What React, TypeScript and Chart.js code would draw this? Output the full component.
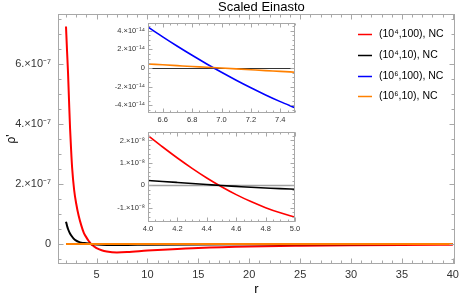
import React, { useEffect, useRef } from 'react';
import { Chart, registerables } from 'chart.js';

Chart.register(...registerables);

const FONT = "'Liberation Sans', Arial, sans-serif";
const TITLE = 'Scaled Einasto';
const X_TITLE = 'r';
const Y_TITLE = "ρ'";

// ---------- series names & colours ----------
const seriesNames = ['(10⁴,100), NC', '(10⁴,10), NC', '(10⁶,100), NC', '(10⁶,10), NC'];
const seriesColors = ['#ff0000', '#000000', '#0000ff', '#ff8000'];

// ---------- main plot data ----------
const redX = [2, 2.1, 2.2, 2.3, 2.4, 2.5, 2.6, 2.8, 3.0, 3.25, 3.5, 3.75, 4.0, 4.25, 4.45, 4.75, 5.0, 5.5, 6.0, 7.0, 8.0, 10, 12, 15, 20, 25, 30, 35, 40];
const redY = [7.25e-7, 6.45e-7, 5.7e-7, 4.75e-7, 3.85e-7, 3.15e-7, 2.55e-7, 1.8e-7, 1.35e-7, 0.93e-7, 0.62e-7, 0.37e-7, 0.22e-7, 0.09e-7, 0, -0.08e-7, -0.14e-7, -0.21e-7, -0.25e-7, -0.28e-7, -0.27e-7, -0.22e-7, -0.18e-7, -0.13e-7, -0.08e-7, -0.055e-7, -0.04e-7, -0.03e-7, -0.025e-7];

const blackX = [2, 2.1, 2.2, 2.35, 2.5, 2.75, 3.0, 3.25, 3.5, 4.0, 4.45, 5, 6, 7, 8, 10, 15, 20, 30, 40];
const blackY = [0.74e-7, 0.61e-7, 0.5e-7, 0.38e-7, 0.29e-7, 0.18e-7, 0.11e-7, 0.07e-7, 0.045e-7, 0.022e-7, 0, -0.017e-7, -0.03e-7, -0.032e-7, -0.03e-7, -0.025e-7, -0.015e-7, -0.01e-7, -0.005e-7, -0.003e-7];

const blueX = [2, 3, 4, 5, 6.5, 7, 7.5, 10, 20, 30, 40];
const blueY = [6e-13, 4e-13, 2.5e-13, 1.5e-13, 4.4e-14, -5e-15, -4.3e-14, -1e-13, -8e-14, -4e-14, -2e-14];

const orangeX = [2, 3, 4, 5, 6.5, 7, 7.5, 10, 20, 30, 40];
const orangeY = [6e-14, 4e-14, 2.5e-14, 1.5e-14, 4.2e-15, -2e-16, -4.6e-15, -1e-14, -8e-15, -4e-15, -2e-15];

// ---------- inset 1 data (blue, orange) ----------
const inset1X = [6.5, 6.6, 6.7, 6.8, 6.9, 7.0, 7.1, 7.2, 7.3, 7.4, 7.5];
const inset1Blue = [4.38e-14, 3.33e-14, 2.32e-14, 1.35e-14, 0.42e-14, -0.47e-14, -1.32e-14, -2.13e-14, -2.9e-14, -3.62e-14, -4.28e-14];
const inset1Orange = [0.42e-14, 0.33e-14, 0.24e-14, 0.15e-14, 0.07e-14, -0.02e-14, -0.11e-14, -0.2e-14, -0.29e-14, -0.37e-14, -0.46e-14];

// ---------- inset 2 data (red, black) ----------
const inset2X = [4.0, 4.1, 4.2, 4.3, 4.4, 4.5, 4.6, 4.7, 4.8, 4.9, 5.0];
const inset2Red = [2.22e-8, 1.71e-8, 1.22e-8, 0.76e-8, 0.33e-8, -0.06e-8, -0.41e-8, -0.72e-8, -0.99e-8, -1.22e-8, -1.41e-8];
const inset2Black = [0.22e-8, 0.175e-8, 0.13e-8, 0.085e-8, 0.04e-8, -0.005e-8, -0.045e-8, -0.085e-8, -0.115e-8, -0.145e-8, -0.17e-8];

// ---------- ticks ----------
const mainXTicks = [5, 10, 15, 20, 25, 30, 35, 40];
const mainXLabels = ['5', '10', '15', '20', '25', '30', '35', '40'];
const mainYTicks = [0, 2e-7, 4e-7, 6e-7];
const mainYLabels = ['0', '2.×10⁻⁷', '4.×10⁻⁷', '6.×10⁻⁷'];

const inset1XTicks = [6.6, 6.8, 7.0, 7.2, 7.4];
const inset1XLabels = ['6.6', '6.8', '7.0', '7.2', '7.4'];
const inset1YTicks = [-4e-14, -2e-14, 0, 2e-14, 4e-14];
const inset1YLabels = ['-4.×10⁻¹⁴', '-2.×10⁻¹⁴', '0', '2.×10⁻¹⁴', '4.×10⁻¹⁴'];

const inset2XTicks = [4.0, 4.2, 4.4, 4.6, 4.8, 5.0];
const inset2XLabels = ['4.0', '4.2', '4.4', '4.6', '4.8', '5.0'];
const inset2YTicks = [-1e-8, 0, 1e-8, 2e-8];
const inset2YLabels = ['-1.×10⁻⁸', '0', '1.×10⁻⁸', '2.×10⁻⁸'];

function range(start: number, end: number, step: number): number[] {
  const out: number[] = [];
  const n = Math.round((end - start) / step);
  for (let i = 0; i <= n; i++) out.push(start + i * step);
  return out;
}

const FRAME_COLOR = '#a8a8a8';
const LABEL_COLOR = '#333333';

function framePlugin(cfg: any) {
  return {
    id: 'frameTicks',
    beforeDatasetsDraw(chart: any) {
      if (!cfg.zero) return;
      const { ctx, chartArea: a, scales } = chart;
      const y = Math.round(scales.y.getPixelForValue(0)) + 0.5;
      ctx.save();
      ctx.strokeStyle = cfg.zero.color;
      ctx.lineWidth = cfg.zero.width;
      ctx.beginPath();
      ctx.moveTo(a.left, y);
      ctx.lineTo(a.right, y);
      ctx.stroke();
      ctx.restore();
    },
    afterDatasetsDraw(chart: any) {
      const { ctx, chartArea: a, scales } = chart;
      ctx.save();
      ctx.strokeStyle = FRAME_COLOR;
      ctx.lineWidth = 1;
      const L = Math.round(a.left) + 0.5, R = Math.round(a.right) - 0.5;
      const T = Math.round(a.top) + 0.5, B = Math.round(a.bottom) - 0.5;
      ctx.strokeRect(L, T, R - L, B - T);
      const drawX = (vals: number[], len: number) => {
        vals.forEach((v) => {
          const px = scales.x.getPixelForValue(v);
          if (px < a.left || px > a.right) return;
          const x = Math.round(px) + 0.5;
          ctx.beginPath();
          ctx.moveTo(x, B); ctx.lineTo(x, B - len);
          ctx.moveTo(x, T); ctx.lineTo(x, T + len);
          ctx.stroke();
        });
      };
      const drawY = (vals: number[], len: number) => {
        vals.forEach((v) => {
          const py = scales.y.getPixelForValue(v);
          if (py < a.top || py > a.bottom) return;
          const y = Math.round(py) + 0.5;
          ctx.beginPath();
          ctx.moveTo(L, y); ctx.lineTo(L + len, y);
          ctx.moveTo(R, y); ctx.lineTo(R - len, y);
          ctx.stroke();
        });
      };
      drawX(cfg.xMinor, cfg.minorLen);
      drawX(cfg.xMajor, cfg.majorLen);
      drawY(cfg.yMinor, cfg.minorLen);
      drawY(cfg.yMajor, cfg.majorLen);
      ctx.restore();
    },
  };
}

const mainDecor = {
  id: 'mainDecor',
  afterDraw(chart: any) {
    const { ctx, chartArea: a } = chart;
    ctx.save();
    ctx.font = `13px ${FONT}`;
    ctx.fillStyle = '#000';
    ctx.textAlign = 'center';
    ctx.textBaseline = 'middle';
    ctx.fillText(TITLE, (a.left + a.right) / 2 + 5, a.top - 7);
    ctx.font = `10.5px ${FONT}`;
    ctx.textAlign = 'left';
    seriesNames.forEach((name, i) => {
      const y = Math.round(a.top + 20 + i * 20.8) + 0.5;
      ctx.strokeStyle = seriesColors[i];
      ctx.lineWidth = 1.5;
      ctx.beginPath();
      ctx.moveTo(a.left + 300, y);
      ctx.lineTo(a.left + 314, y);
      ctx.stroke();
      ctx.fillStyle = '#000';
      ctx.fillText(name, a.left + 321, y);
    });
    ctx.restore();
  },
};

function pts(xs: number[], ys: number[]) {
  return xs.map((x, i) => ({ x, y: ys[i] }));
}

function axisX(min: number, max: number, ticks: number[], labels: string[], height: number, fontSize: number, pad: number, title?: string) {
  return {
    type: 'linear',
    min,
    max,
    grid: { display: false, drawTicks: false },
    border: { display: false },
    afterBuildTicks: (s: any) => { s.ticks = ticks.map((v) => ({ value: v })); },
    afterFit: (s: any) => { s.height = height; },
    ticks: {
      autoSkip: false,
      maxRotation: 0,
      padding: pad,
      color: LABEL_COLOR,
      font: { family: FONT, size: fontSize },
      callback: (_v: any, i: number) => labels[i],
    },
    title: title
      ? { display: true, text: title, color: '#000', font: { family: FONT, size: 13 }, padding: 0 }
      : { display: false },
  };
}

function axisY(min: number, max: number, ticks: number[], labels: string[], width: number, fontSize: number, pad: number, title?: string) {
  return {
    type: 'linear',
    min,
    max,
    grid: { display: false, drawTicks: false },
    border: { display: false },
    afterBuildTicks: (s: any) => { s.ticks = ticks.map((v) => ({ value: v })); },
    afterFit: (s: any) => { s.width = width; },
    ticks: {
      autoSkip: false,
      padding: pad,
      color: LABEL_COLOR,
      font: { family: FONT, size: fontSize },
      callback: (_v: any, i: number) => labels[i],
    },
    title: title
      ? { display: true, text: title, color: '#000', font: { family: FONT, size: 12 }, padding: { top: 4, bottom: 0 } }
      : { display: false },
  };
}

function lineDs(label: string, data: any[], color: string, width: number, order: number) {
  return {
    label,
    data,
    borderColor: color,
    backgroundColor: color,
    borderWidth: width,
    pointRadius: 0,
    fill: false,
    cubicInterpolationMode: 'monotone',
    order,
  };
}

const baseOpts = {
  animation: false,
  responsive: false,
  maintainAspectRatio: false,
  devicePixelRatio: 1,
  events: [],
  parsing: true,
  plugins: { legend: { display: false }, tooltip: { enabled: false }, title: { display: false } },
};

export default function App() {
  const mainRef = useRef<HTMLCanvasElement>(null);
  const in1Ref = useRef<HTMLCanvasElement>(null);
  const in2Ref = useRef<HTMLCanvasElement>(null);

  useEffect(() => {
    const charts: Chart[] = [];

    charts.push(
      new Chart(mainRef.current as HTMLCanvasElement, {
        type: 'line',
        data: {
          datasets: [
            lineDs(seriesNames[0], pts(redX, redY), seriesColors[0], 2, 4),
            lineDs(seriesNames[1], pts(blackX, blackY), seriesColors[1], 2, 3),
            lineDs(seriesNames[2], pts(blueX, blueY), seriesColors[2], 2, 2),
            lineDs(seriesNames[3], pts(orangeX, orangeY), seriesColors[3], 2, 1),
          ] as any,
        },
        options: {
          ...baseOpts,
          layout: { padding: { top: 14, right: 8, left: 0, bottom: 0 } },
          scales: {
            x: axisX(1.214, 40.2, mainXTicks, mainXLabels, 33, 11, 4, X_TITLE),
            y: axisY(-0.667e-7, 7.667e-7, mainYTicks, mainYLabels, 58, 11, 7, Y_TITLE),
          },
        } as any,
        plugins: [
          framePlugin({
            xMajor: mainXTicks,
            xMinor: range(1, 40, 1),
            yMajor: mainYTicks,
            yMinor: range(-0.5e-7, 7.5e-7, 0.5e-7),
            majorLen: 5,
            minorLen: 3,
          }),
          mainDecor,
        ] as any,
      })
    );

    charts.push(
      new Chart(in1Ref.current as HTMLCanvasElement, {
        type: 'line',
        data: {
          datasets: [
            lineDs(seriesNames[2], pts(inset1X, inset1Blue), seriesColors[2], 1.6, 2),
            lineDs(seriesNames[3], pts(inset1X, inset1Orange), seriesColors[3], 1.6, 1),
          ] as any,
        },
        options: {
          ...baseOpts,
          layout: { padding: { top: 5, right: 10, left: 0, bottom: 0 } },
          scales: {
            x: axisX(6.5, 7.5, inset1XTicks, inset1XLabels, 14, 7.5, 2),
            y: axisY(-4.84e-14, 4.87e-14, inset1YTicks, inset1YLabels, 48, 7.5, 3),
          },
        } as any,
        plugins: [
          framePlugin({
            xMajor: inset1XTicks,
            xMinor: range(6.5, 7.5, 0.05),
            yMajor: inset1YTicks,
            yMinor: range(-4.5e-14, 4.5e-14, 0.5e-14),
            majorLen: 4,
            minorLen: 2,
            zero: { color: '#333333', width: 1 },
          }),
        ] as any,
      })
    );

    charts.push(
      new Chart(in2Ref.current as HTMLCanvasElement, {
        type: 'line',
        data: {
          datasets: [
            lineDs(seriesNames[0], pts(inset2X, inset2Red), seriesColors[0], 1.6, 2),
            lineDs(seriesNames[1], pts(inset2X, inset2Black), seriesColors[1], 1.6, 1),
          ] as any,
        },
        options: {
          ...baseOpts,
          layout: { padding: { top: 5, right: 10, left: 0, bottom: 0 } },
          scales: {
            x: axisX(4.0, 5.0, inset2XTicks, inset2XLabels, 14, 7.5, 2),
            y: axisY(-1.63e-8, 2.4e-8, inset2YTicks, inset2YLabels, 48, 7.5, 3),
          },
        } as any,
        plugins: [
          framePlugin({
            xMajor: inset2XTicks,
            xMinor: range(4.0, 5.0, 0.05),
            yMajor: inset2YTicks,
            yMinor: range(-1.6e-8, 2.4e-8, 0.2e-8),
            majorLen: 4,
            minorLen: 2,
            zero: { color: '#a0a0a0', width: 1.5 },
          }),
        ] as any,
      })
    );

    return () => charts.forEach((c) => c.destroy());
  }, []);

  const abs = (l: number, t: number): React.CSSProperties => ({ position: 'absolute', left: l, top: t, display: 'block' });

  return (
    <div style={{ position: 'fixed', left: 0, top: 0, width: 463, height: 297, background: '#fff', overflow: 'hidden' }}>
      <canvas ref={mainRef} width={463} height={297} style={abs(0, 0)} />
      <canvas ref={in1Ref} width={205} height={112} style={abs(100, 15)} />
      <canvas ref={in2Ref} width={205} height={112} style={abs(100, 124)} />
    </div>
  );
}
